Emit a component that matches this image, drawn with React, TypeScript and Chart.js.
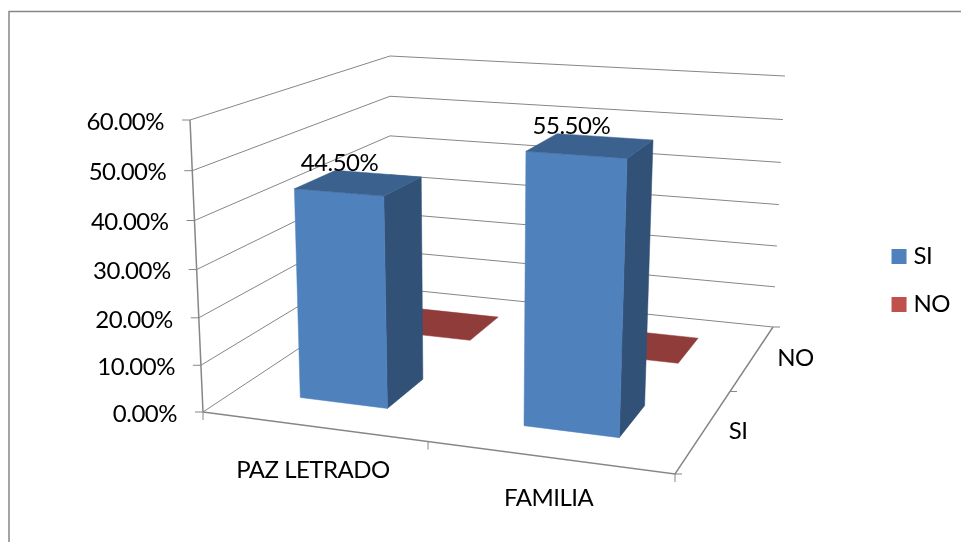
import React, { useEffect, useRef } from "react";
import { Chart, registerables } from "chart.js";

Chart.register(...registerables);

const categories = ["PAZ LETRADO", "FAMILIA"];
const seriesNames = ["SI", "NO"];
const siValues = [44.5, 55.5];
const noValues = [0, 0];
const seriesColors = ["#4F81BD", "#C0504D"];

const FONT = "Lato";
const TEXT_SIZE = 24;
const TEXT_SPACING = "-0.5px";
const LINE = "#868686";
const LABEL_NUDGE = [5, -1.5];

type Pt = [number, number];
// Corners of the 3D box on screen: front-left, front-right, back-right, back-left
const FLOOR: Pt[] = [[203, 412], [675, 474], [773, 327], [390, 288]];
const CEIL: Pt[] = [[190, 120], [689, 155], [785, 76], [390, 56]];
const HEIGHT_PERSPECTIVE = 1.05;

function homography(q: Pt[]) {
  const [p0, p1, p2, p3] = q;
  const dx1 = p1[0] - p2[0], dx2 = p3[0] - p2[0], sx = p0[0] - p1[0] + p2[0] - p3[0];
  const dy1 = p1[1] - p2[1], dy2 = p3[1] - p2[1], sy = p0[1] - p1[1] + p2[1] - p3[1];
  const den = dx1 * dy2 - dx2 * dy1;
  const g = (sx * dy2 - dx2 * sy) / den;
  const h = (dx1 * sy - sx * dy1) / den;
  const a = p1[0] - p0[0] + g * p1[0], b = p3[0] - p0[0] + h * p3[0], c = p0[0];
  const d = p1[1] - p0[1] + g * p1[1], e = p3[1] - p0[1] + h * p3[1], f = p0[1];
  return (u: number, z: number): Pt => {
    const w = g * u + h * z + 1;
    return [(a * u + b * z + c) / w, (d * u + e * z + f) / w];
  };
}
const floorAt = homography(FLOOR);
const ceilAt = homography(CEIL);

// u: across categories (0..1), t: up the value axis (0..1), z: depth (0..1)
function project(u: number, t: number, z: number): Pt {
  const s = t <= 0 ? 0 : t / (t + HEIGHT_PERSPECTIVE * (1 - t));
  const a = floorAt(u, z), b = ceilAt(u, z);
  return [a[0] + (b[0] - a[0]) * s, a[1] + (b[1] - a[1]) * s];
}

function shade(hex: string, f: number) {
  const n = parseInt(hex.slice(1), 16);
  const c = [(n >> 16) & 255, (n >> 8) & 255, n & 255].map((v) => Math.round(v * f));
  return `rgb(${c[0]},${c[1]},${c[2]})`;
}

function poly(ctx: CanvasRenderingContext2D, pts: Pt[], color: string) {
  ctx.beginPath();
  pts.forEach((p, i) => (i ? ctx.lineTo(p[0], p[1]) : ctx.moveTo(p[0], p[1])));
  ctx.closePath();
  ctx.fillStyle = color;
  ctx.fill();
  ctx.strokeStyle = color;
  ctx.lineWidth = 0.5;
  ctx.stroke();
}

function line(ctx: CanvasRenderingContext2D, pts: Pt[]) {
  ctx.beginPath();
  pts.forEach((p, i) => (i ? ctx.lineTo(p[0], p[1]) : ctx.moveTo(p[0], p[1])));
  ctx.stroke();
}

function textStyle(ctx: any) {
  ctx.fillStyle = "#000";
  ctx.font = `${TEXT_SIZE}px ${FONT}`;
  ctx.letterSpacing = TEXT_SPACING;
  ctx.textBaseline = "middle";
}

const scene3d = {
  id: "scene3d",
  beforeDatasetsDraw(chart: any) {
    const ctx: CanvasRenderingContext2D = chart.ctx;
    const { x: xs, y: ys } = chart.scales;
    const tOf = (py: number) => (ys.bottom - py) / (ys.bottom - ys.top);
    const uOf = (px: number) => (px - xs.left) / (xs.right - xs.left);
    const nSeries = chart.data.datasets.length;
    const depth = 0.4 / nSeries;

    ctx.save();
    // chart frame
    ctx.strokeStyle = LINE;
    ctx.lineWidth = 1.5;
    line(ctx, [[9, 542], [9, 11.5], [961, 11.5]]);

    // walls and gridlines
    ctx.lineWidth = 1;
    ctx.strokeStyle = LINE;
    ys.ticks.forEach((tk: any) => {
      const t = tOf(ys.getPixelForValue(tk.value));
      const a = project(0, t, 0);
      line(ctx, [a, project(0, t, 1), project(1, t, 1)]);
      line(ctx, [[a[0] - 8, a[1]], a]);
    });
    // axes
    ctx.lineWidth = 1.5;
    line(ctx, [project(0, 0, 0), project(0, 1, 0)]);
    line(ctx, [project(0, 0, 0), project(1, 0, 0), project(1, 0, 1)]);
    ctx.lineWidth = 1;
    const nCat = categories.length;
    for (let i = 0; i <= nCat; i++) {
      const p = project(i / nCat, 0, 0);
      line(ctx, [p, [p[0], p[1] + 8]]);
    }
    for (let i = 0; i <= nSeries; i++) {
      const p = project(1, 0, i / nSeries);
      line(ctx, [p, [p[0] + 7, p[1]]]);
    }

    // marks, back row first
    for (let ds = nSeries - 1; ds >= 0; ds--) {
      const color = chart.data.datasets[ds].backgroundColor;
      const zc = (ds + 0.5) / nSeries;
      const z0 = zc - depth / 2, z1 = zc + depth / 2;
      chart.getDatasetMeta(ds).data.forEach((el: any) => {
        const u0 = uOf(el.x - el.width / 2), u1 = uOf(el.x + el.width / 2);
        const t = tOf(el.y);
        if (t > 0) {
          poly(ctx, [project(u1, 0, z0), project(u1, 0, z1), project(u1, t, z1), project(u1, t, z0)], shade(color, 0.63));
          poly(ctx, [project(u0, 0, z0), project(u1, 0, z0), project(u1, t, z0), project(u0, t, z0)], color);
        }
        poly(ctx, [project(u0, t, z0), project(u1, t, z0), project(u1, t, z1), project(u0, t, z1)], shade(color, 0.75));
      });
    }

    // texts
    textStyle(ctx);
    ctx.textAlign = "right";
    ys.ticks.forEach((tk: any) => {
      const p = project(0, tOf(ys.getPixelForValue(tk.value)), 0);
      ctx.fillText(tk.label, p[0] - 26, p[1] + 2);
    });
    ctx.textAlign = "center";
    categories.forEach((c, i) => {
      const u = uOf(xs.getPixelForValue(i));
      const p = project(u, 0, 0);
      ctx.fillText(c, p[0], p[1] + 45 - 5 * u);
    });
    ctx.textAlign = "left";
    seriesNames.forEach((s, i) => {
      const p = project(1, 0, (i + 0.5) / nSeries);
      ctx.fillText(s, p[0] + 24.5, p[1] + 1);
    });
    ctx.textAlign = "center";
    chart.getDatasetMeta(0).data.forEach((el: any, i: number) => {
      const p = project(uOf(el.x), tOf(el.y), 0.13);
      ctx.fillText(siValues[i].toFixed(2) + "%", p[0] + LABEL_NUDGE[i], p[1] - 31);
    });
    ctx.restore();
    return false;
  },
  afterDraw(chart: any) {
    // legend text sits closer to its box than the library's fixed gap allows
    const ctx: CanvasRenderingContext2D = chart.ctx;
    ctx.save();
    textStyle(ctx);
    ctx.textAlign = "left";
    chart.legend.legendItems.forEach((item: any, i: number) => {
      const b = chart.legend.legendHitBoxes[i];
      ctx.fillText(item.text, b.left + 22, b.top + b.height / 2);
    });
    ctx.restore();
  },
};

export default function App() {
  const ref = useRef<HTMLCanvasElement>(null);
  useEffect(() => {
    const chart = new Chart(ref.current!, {
      type: "bar",
      data: {
        labels: categories,
        datasets: [
          { label: seriesNames[0], data: siValues, backgroundColor: seriesColors[0] },
          { label: seriesNames[1], data: noValues, backgroundColor: seriesColors[1] },
        ],
      },
      plugins: [scene3d],
      options: {
        responsive: false,
        animation: false,
        datasets: { bar: { grouped: false, barPercentage: 0.4, categoryPercentage: 1 } },
        layout: { padding: { top: 30, bottom: 11, right: -3, left: 10 } },
        scales: {
          x: { ticks: { display: false }, grid: { display: false }, border: { display: false } },
          y: {
            min: 0,
            max: 60,
            ticks: { display: false, stepSize: 10, callback: (v: any) => Number(v).toFixed(2) + "%" },
            grid: { display: false },
            border: { display: false },
          },
        },
        plugins: {
          tooltip: { enabled: false },
          legend: {
            position: "right",
            labels: {
              color: "rgba(0,0,0,0)",
              font: { family: FONT, size: 23 },
              boxWidth: 15,
              boxHeight: 15,
              padding: 25,
            },
          },
        },
      },
    } as any);
    return () => chart.destroy();
  }, []);
  return (
    <canvas
      ref={ref}
      width={961}
      height={542}
      style={{ position: "absolute", left: 0, top: 0, display: "block" }}
    />
  );
}
